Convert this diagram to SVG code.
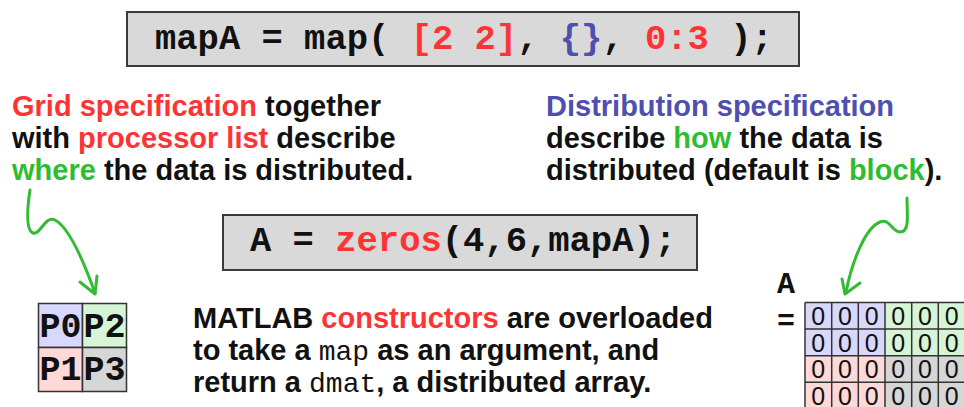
<svg xmlns="http://www.w3.org/2000/svg" width="964" height="407" viewBox="0 0 964 407">
<style>
.code{font-family:"Liberation Mono","Courier New",monospace;font-weight:bold;font-size:35.5px;fill:#111;white-space:pre}
.txt{font-family:"Liberation Sans",Arial,sans-serif;font-weight:bold;font-size:29px;fill:#111;white-space:pre}
.mono{font-family:"Liberation Mono","Courier New",monospace;font-weight:normal;font-size:28px}
.red{fill:#ff3333}
.blue{fill:#4f4fb0}
.green{fill:#2ebd2e}
.box{fill:#d9d9d9;stroke:#3a3a3a;stroke-width:2}
.grid{stroke:#333;stroke-width:1.5}
.pt{font-family:"Liberation Mono","Courier New",monospace;font-weight:bold;font-size:35px;fill:#111;text-anchor:middle}
.z{font-family:"Liberation Sans",Arial,sans-serif;font-size:25px;fill:#111;text-anchor:middle}
.arrow{fill:none;stroke:#33bb33;stroke-width:3;stroke-linecap:round;stroke-linejoin:round}
.cb{fill:#d8d8ff}.cg{fill:#d6f5d6}.cr{fill:#ffd8d8}.cy{fill:#d6d6d6}
</style>
<rect width="964" height="407" fill="#fff"/>
<g id="mapA-box">
<rect class="box" x="127" y="12" width="672" height="54"/>
<text class="code" x="155" y="49">mapA = map( <tspan class="red">[2 2]</tspan>, <tspan class="blue">{}</tspan>, <tspan class="red">0:3</tspan> );</text>
</g>
<g id="grid-text">
<text class="txt" x="12" y="116"><tspan class="red">Grid specification</tspan> together</text>
<text class="txt" x="12" y="148">with <tspan class="red">processor list</tspan> describe</text>
<text class="txt" x="12" y="180"><tspan class="green">where</tspan> the data is distributed.</text>
</g>
<g id="dist-text">
<text class="txt" x="546" y="116"><tspan class="blue">Distribution specification</tspan></text>
<text class="txt" x="546" y="148">describe <tspan class="green">how</tspan> the data is</text>
<text class="txt" x="546" y="180">distributed (default is <tspan class="green">block</tspan>).</text>
</g>
<g id="zeros-box">
<rect class="box" x="223" y="215" width="474" height="55"/>
<text class="code" x="250" y="251">A = <tspan class="red">zeros</tspan>(4,6,mapA);</text>
</g>
<g id="proc-grid">
<rect class="cb grid" x="38.5" y="303.5" width="44" height="44"/>
<rect class="cg grid" x="82.5" y="303.5" width="44" height="44"/>
<rect class="cr grid" x="38.5" y="347.5" width="44" height="44"/>
<rect class="cy grid" x="82.5" y="347.5" width="44" height="44"/>
<text class="pt" x="60.5" y="337">P0</text>
<text class="pt" x="104.5" y="337">P2</text>
<text class="pt" x="60.5" y="380">P1</text>
<text class="pt" x="104.5" y="380">P3</text>
</g>
<g id="constructor-text">
<text class="txt" x="193" y="328">MATLAB <tspan class="red">constructors</tspan> are overloaded</text>
<text class="txt" x="193" y="360">to take a <tspan class="mono">map</tspan> as an argument, and</text>
<text class="txt" x="193" y="392">return a <tspan class="mono">dmat</tspan>, a distributed array.</text>
</g>
<g id="matrix">
<text class="code" x="777" y="293" style="font-size:30px">A</text>
<text class="code" x="777" y="330" style="font-size:30px">=</text>
<rect class="cb" x="805" y="302.5" width="80" height="53.2"/>
<rect class="cg" x="885" y="302.5" width="80" height="53.2"/>
<rect class="cr" x="805" y="355.7" width="80" height="53.3"/>
<rect class="cy" x="885" y="355.7" width="80" height="53.3"/>
<g class="grid" fill="none">
<path d="M805,302.5H965M805,329.1H965M805,355.7H965M805,382.3H965M805,302.5V409M831.7,302.5V409M858.3,302.5V409M885,302.5V409M911.7,302.5V409M938.3,302.5V409"/>
</g>
<g>
<text class="z" x="818.3" y="325">0</text><text class="z" x="845" y="325">0</text><text class="z" x="871.7" y="325">0</text><text class="z" x="898.3" y="325">0</text><text class="z" x="925" y="325">0</text><text class="z" x="951.7" y="325">0</text>
<text class="z" x="818.3" y="351.5">0</text><text class="z" x="845" y="351.5">0</text><text class="z" x="871.7" y="351.5">0</text><text class="z" x="898.3" y="351.5">0</text><text class="z" x="925" y="351.5">0</text><text class="z" x="951.7" y="351.5">0</text>
<text class="z" x="818.3" y="378">0</text><text class="z" x="845" y="378">0</text><text class="z" x="871.7" y="378">0</text><text class="z" x="898.3" y="378">0</text><text class="z" x="925" y="378">0</text><text class="z" x="951.7" y="378">0</text>
<text class="z" x="818.3" y="404.5">0</text><text class="z" x="845" y="404.5">0</text><text class="z" x="871.7" y="404.5">0</text><text class="z" x="898.3" y="404.5">0</text><text class="z" x="925" y="404.5">0</text><text class="z" x="951.7" y="404.5">0</text>
</g>
</g>
<g id="connectors">
<path class="arrow" d="M30,190 C27,210 26,230 33,233 C40,236 45,215 55,220 C70,228 85,265 95,293"/>
<path class="arrow" d="M80,282 L95,294 L97,276"/>
<path class="arrow" d="M907,198 C907,215 910,232 900,232 C892,232 890,218 880,222 C865,228 852,262 846,292"/>
<path class="arrow" d="M842,279 L845,294 L860,283"/>
</g>
</svg>
